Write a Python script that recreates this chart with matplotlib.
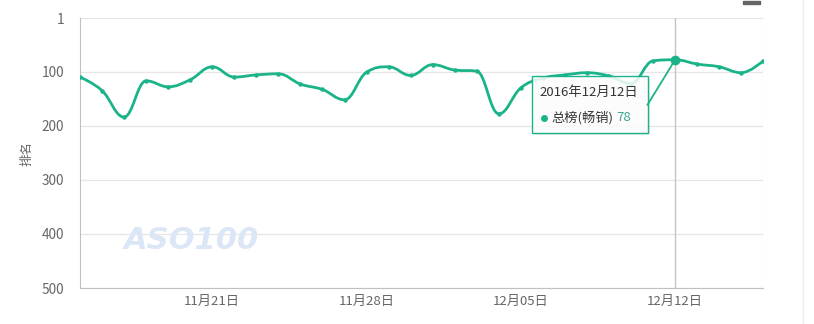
import numpy as np
import matplotlib
matplotlib.use("Agg")
import matplotlib.pyplot as plt
import matplotlib.dates as mdates
from matplotlib.path import Path
from matplotlib.patches import PathPatch, FancyBboxPatch, Rectangle
from matplotlib.lines import Line2D
import datetime as dt

plt.rcParams['font.family'] = ['Noto Sans CJK SC', 'DejaVu Sans']

# Daily rank of the app on the top-grossing chart
start_date = dt.date(2016, 11, 15)
ranks = [110, 135, 184, 117, 128, 115, 91, 110, 106, 104,
         123, 133, 152, 101, 91, 107, 87, 97, 99, 178,
         130, 112, 106, 102, 108, 122, 80, 78, 86, 91,
         102, 80]
dates = [start_date + dt.timedelta(days=i) for i in range(len(ranks))]

tick_dates = [dt.date(2016, 11, 21), dt.date(2016, 11, 28),
              dt.date(2016, 12, 5), dt.date(2016, 12, 12)]
tick_labels = ["11月21日", "11月28日", "12月05日", "12月12日"]
y_ticks = [1, 100, 200, 300, 400, 500]

series_name = "总榜(畅销)"
hover_date = dt.date(2016, 12, 12)
hover_label = "2016年12月12日"

LINE = "#1bb38a"
TEXT = "#666666"

W, H = 814, 324
fig = plt.figure(figsize=(W / 100, H / 100), dpi=100)
ax = fig.add_axes([80 / W, 36 / H, (763.3 - 80) / W, (288 - 18.1) / H])

xnum = mdates.date2num(dates)
ax.set_xlim(xnum[0], xnum[-1])
ax.set_ylim(500, 1)


def spline_path(xs, ys, smoothing=1.5):
    """Smooth cubic Bezier path through the points (spline-series style)."""
    n = len(xs)
    denom = smoothing + 1
    right = [None] * n
    left = [None] * n
    for i in range(1, n - 1):
        px, py = xs[i], ys[i]
        lx, ly = xs[i - 1], ys[i - 1]
        nx, ny = xs[i + 1], ys[i + 1]
        lcx = (smoothing * px + lx) / denom
        lcy = (smoothing * py + ly) / denom
        rcx = (smoothing * px + nx) / denom
        rcy = (smoothing * py + ny) / denom
        corr = 0.0
        if rcx != lcx:
            corr = (rcy - lcy) * (rcx - px) / (rcx - lcx) + py - rcy
        lcy += corr
        rcy += corr
        if lcy > ly and lcy > py:
            lcy = max(ly, py); rcy = 2 * py - lcy
        elif lcy < ly and lcy < py:
            lcy = min(ly, py); rcy = 2 * py - lcy
        if rcy > ny and rcy > py:
            rcy = max(ny, py); lcy = 2 * py - rcy
        elif rcy < ny and rcy < py:
            rcy = min(ny, py); lcy = 2 * py - rcy
        left[i] = (lcx, lcy)
        right[i] = (rcx, rcy)
    verts = [(xs[0], ys[0])]
    codes = [Path.MOVETO]
    for i in range(1, n):
        c1 = right[i - 1] if right[i - 1] is not None else (xs[i - 1], ys[i - 1])
        c2 = left[i] if left[i] is not None else (xs[i], ys[i])
        verts += [c1, c2, (xs[i], ys[i])]
        codes += [Path.CURVE4] * 3
    return Path(verts, codes)


# grid and frame
for yv in y_ticks:
    ax.axhline(yv, color="#e6e6e6", lw=0.9, zorder=0)
for side in ["top", "right"]:
    ax.spines[side].set_visible(False)
ax.spines["left"].set_color("#c0c0c0")
ax.spines["bottom"].set_color("#c0c0c0")
ax.axvline(xnum[-1], color="#ececec", lw=0.9, zorder=0)

ax.set_yticks(y_ticks)
ax.set_yticklabels([str(v) for v in y_ticks])
ax.set_xticks(mdates.date2num(tick_dates))
ax.set_xticklabels(tick_labels)
ax.tick_params(axis="y", length=0, pad=11.5, labelsize=9.8, labelcolor=TEXT)
ax.tick_params(axis="x", length=0, pad=5, labelsize=9.5, labelcolor=TEXT)
ax.set_ylabel("排名", fontsize=9, color=TEXT)
ax.yaxis.set_label_coords((33.5 - 80) / (763.3 - 80), 0.5)

# watermark
ax.text(0.163, 0.175, "ASO100", transform=ax.transAxes, fontsize=22,
        fontstyle="italic", fontweight="bold", color="#dbe7f7",
        family="DejaVu Sans", ha="center", va="center", zorder=1)

# crosshair at the hovered day
hx = mdates.date2num(hover_date)
hy = ranks[dates.index(hover_date)]
ax.axvline(hx, color="#c4c4c4", lw=1.0, zorder=2)

# series
path = spline_path(list(xnum), list(ranks))
ax.add_patch(PathPatch(path, fill=False, edgecolor=LINE, lw=2.0, zorder=3,
                       capstyle="round", joinstyle="round"))
ax.plot(xnum, ranks, "o", ms=3.2, color=LINE, zorder=4, mec="none")
ax.plot([hx], [hy], "o", ms=7, color=LINE, zorder=6, mec="none")

# tooltip, placed relative to the hovered point
fig.canvas.draw()
px, py = ax.transData.transform((hx, hy))
fig_px = lambda x, y: (x / W, y / H)
bx0 = px - 143.6
by0 = py - 73.3
bw, bh = 116, 56.6
shadow = FancyBboxPatch(fig_px(bx0 + 2, by0 - 2), bw / W, bh / H,
                        boxstyle="square,pad=0", transform=fig.transFigure,
                        facecolor="#000000", alpha=0.08, edgecolor="none",
                        zorder=7)
fig.patches.append(shadow)
box = FancyBboxPatch(fig_px(bx0, by0), bw / W, bh / H,
                     boxstyle="square,pad=0", transform=fig.transFigure,
                     facecolor=(1, 1, 1, 0.86), edgecolor=LINE, lw=1.0,
                     zorder=8)
fig.patches.append(box)
# connector from box to point
conn = Line2D([(bx0 + bw) / W, px / W], [(by0 + bh - 28.3) / H, py / H],
              transform=fig.transFigure, color=LINE, lw=1.3, zorder=9)
fig.lines.append(conn)
fig.text((bx0 + 7.5) / W, (by0 + bh - 15.5) / H, hover_label,
         fontsize=9.5, color="#333333", va="center", ha="left", zorder=10)
fig.lines.append(Line2D([(bx0 + 12) / W], [(by0 + bh - 41.5) / H],
                        marker="o", ms=5, color=LINE, mec="none",
                        transform=fig.transFigure, zorder=10))
fig.text((bx0 + 20) / W, (by0 + bh - 41.5) / H, series_name,
         fontsize=9.5, color="#333333", va="center", ha="left", zorder=10)
fig.text((bx0 + 85) / W, (by0 + bh - 41.5) / H, str(hy),
         fontsize=9.5, color="#3aa59a", va="center", ha="left", zorder=10)

# toolbar stub and panel edge
fig.patches.append(Rectangle((743 / W, (H - 4) / H), 17 / W, 2.5 / H,
                             transform=fig.transFigure, color="#666666"))
fig.lines.append(Line2D([803 / W, 803 / W], [0, 1], transform=fig.transFigure,
                        color="#ededed", lw=1))

fig.savefig("out.png", dpi=100)
